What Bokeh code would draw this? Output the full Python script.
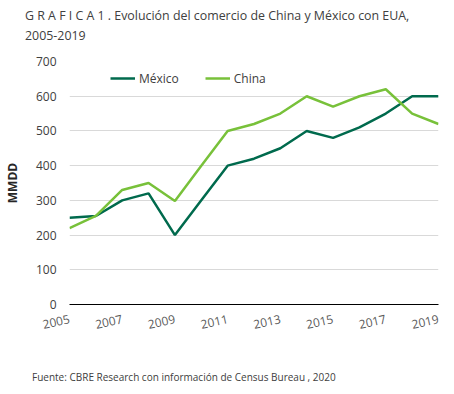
from bokeh.plotting import figure
from bokeh.models import Range1d, FixedTicker, Legend, LegendItem, Div
from bokeh.layouts import column
from bokeh.embed import file_html
from bokeh.resources import INLINE

years = [2005, 2006, 2007, 2008, 2009, 2010, 2011, 2012, 2013, 2014, 2015, 2016, 2017, 2018, 2019]
mexico = [250, 255, 300, 320, 200, 300, 400, 420, 450, 500, 480, 510, 550, 600, 600]
china = [220, 255, 330, 350, 298, 400, 500, 520, 550, 600, 570, 600, 620, 550, 520]
tick_years = [2005, 2007, 2009, 2011, 2013, 2015, 2017, 2019]
y_ticks = [0, 100, 200, 300, 400, 500, 600, 700]

title1 = "G R A F I C A 1 . Evolución del comercio de China y México con EUA,"
title2 = "2005-2019"
footer = "Fuente: CBRE Research con información de Census Bureau , 2020"

MEX_COLOR = "#006A4D"
CHN_COLOR = "#78C13A"
TXT = "#404040"
FONT = "Open Sans"

W = 446
title_div = Div(
    text=('<div style="font-family:\'Open Sans\';font-size:12.4px;color:%s;line-height:20px;'
          'padding:6px 0 0 25px;margin:0;white-space:nowrap;">%s<br>%s</div>') % (TXT, title1, title2),
    width=W, height=46, margin=0)

p = figure(width=W, height=319, output_backend="svg", toolbar_location=None,
           x_range=Range1d(2005, 2019), y_range=Range1d(0, 700),
           min_border_left=66, min_border_right=8, min_border_top=15, min_border_bottom=61,
           margin=0)
p.outline_line_color = None
p.background_fill_color = "white"
p.border_fill_color = "white"

p.xgrid.grid_line_color = None
p.ygrid.grid_line_color = "#d9d9d9"
p.ygrid.grid_line_width = 1
p.ygrid.ticker = FixedTicker(ticks=y_ticks)

p.xaxis.ticker = FixedTicker(ticks=tick_years)
p.xaxis.axis_line_color = "#000000"
p.xaxis.axis_line_width = 1
p.xaxis.major_tick_line_color = None
p.xaxis.major_tick_out = 0
p.xaxis.major_tick_in = 0
p.xaxis.minor_tick_line_color = None
p.xaxis.major_label_orientation = 0.22
p.xaxis.major_label_standoff = 14
p.xaxis.major_label_text_font = FONT
p.xaxis.major_label_text_font_size = "12px"
p.xaxis.major_label_text_color = "#595959"

p.yaxis.ticker = FixedTicker(ticks=y_ticks)
p.yaxis.axis_line_color = None
p.yaxis.major_tick_line_color = None
p.yaxis.major_tick_out = 0
p.yaxis.major_tick_in = 0
p.yaxis.minor_tick_line_color = None
p.yaxis.major_label_standoff = 13
p.yaxis.major_label_text_font = FONT
p.yaxis.major_label_text_font_size = "12px"
p.yaxis.major_label_text_color = TXT
p.yaxis.axis_label = "MMDD"
p.yaxis.axis_label_text_font = FONT
p.yaxis.axis_label_text_font_style = "bold"
p.yaxis.axis_label_text_font_size = "12px"
p.yaxis.axis_label_text_color = "#262626"
p.yaxis.axis_label_standoff = 12

r_mex = p.line(years, mexico, line_color=MEX_COLOR, line_width=2.5)
r_chn = p.line(years, china, line_color=CHN_COLOR, line_width=2.5)

legend = Legend(items=[LegendItem(label="México", renderers=[r_mex]),
                       LegendItem(label="China", renderers=[r_chn])],
                orientation="horizontal", location=(41, 216),
                glyph_width=25, glyph_height=20, label_standoff=4, spacing=26,
                padding=0, margin=0, border_line_color=None, background_fill_alpha=0,
                label_text_font=FONT, label_text_font_size="12px", label_text_color=TXT)
p.add_layout(legend, "center")

footer_div = Div(
    text=('<div style="font-family:\'Open Sans\';font-size:10px;color:%s;line-height:24px;'
          'padding:0 0 0 32px;margin:0;white-space:nowrap;">%s</div>') % (TXT, footer),
    width=W, height=24, margin=0)

layout = column(title_div, p, footer_div, spacing=0)
open("out.html", "w").write(file_html(layout, INLINE))
